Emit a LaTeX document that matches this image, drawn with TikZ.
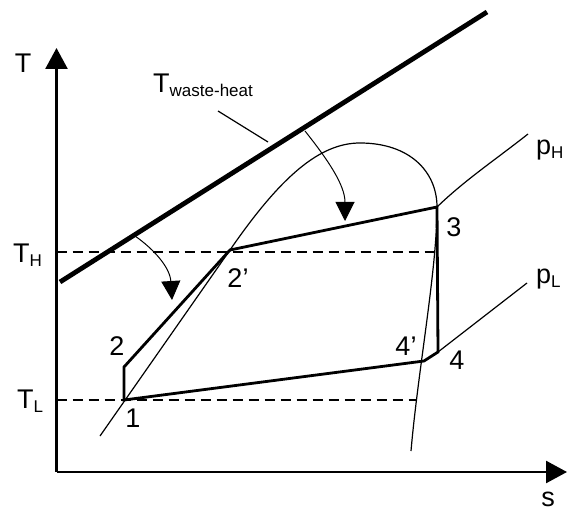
\documentclass[tikz,border=0pt]{standalone}
\usepackage{fontspec}
\setmainfont{Liberation Sans}
\usetikzlibrary{arrows.meta}
\newcommand{\subtxt}[1]{\raisebox{-4pt}{\fontsize{17}{17}\selectfont #1}}
\begin{document}
\begin{tikzpicture}[x=1pt,y=-1pt,
  axisline/.style={line width=2.6pt,-{Triangle[length=21pt,width=22pt]}},
  cycleline/.style={line width=2.8pt,line join=miter},
  hotline/.style={line width=4.8pt},
  thinline/.style={line width=1.2pt},
  dashline/.style={line width=2pt,dash pattern=on 10pt off 6pt},
  heatarrow/.style={line width=1pt,-{Triangle[length=19pt,width=19pt]}},
  lbl/.style={inner sep=0pt,font=\fontsize{27}{30}\selectfont}]
\useasboundingbox (0,0) rectangle (570,513);

% axes
\coordinate (O) at (56.5,472);
\coordinate (Ttip) at (56.5,48);
\coordinate (stip) at (567,472);
\draw[axisline] (O) -- (Ttip);
\draw[axisline] (O) -- (stip);

% cycle points
\coordinate (p1) at (124,400);
\coordinate (p2) at (124,367);
\coordinate (p2p) at (230,250);
\coordinate (p3) at (437,207);
\coordinate (p4) at (438,352);
\coordinate (p4p) at (424,361);

% dashed temperature levels
\coordinate (THa) at (56.5,252);
\coordinate (THb) at (437,252);
\coordinate (TLa) at (56.5,400);
\coordinate (TLb) at (416,400);
\draw[dashline] (THa) -- (THb);
\draw[dashline] (TLa) -- (TLb);

% waste heat line
\coordinate (wh1) at (60,282);
\coordinate (wh2) at (487,12);
\draw[hotline] (wh1) -- (wh2);

% saturation dome
\coordinate (dl) at (100,436);
\coordinate (dtop) at (360,143);
\coordinate (dr) at (411,451);
\draw[thinline] (dl) -- (p2p) .. controls (281,176) and (320,143) .. (dtop)
  .. controls (410,143) and (437,172) .. (p3)
  .. controls (437,270) and (418,370) .. (dr);

% isobars
\coordinate (pHend) at (528,134);
\coordinate (pLend) at (527,283);
\draw[thinline] (p3) .. controls (465,180) and (495,160) .. (pHend);
\draw[thinline] (p4) -- (pLend);

% cycle
\draw[cycleline] (p1) -- (p2) -- (p2p) -- (p3) -- (p4) -- (p4p) -- cycle;

% heat transfer arrows
\coordinate (a1s) at (305,131);
\coordinate (a1e) at (345,221);
\coordinate (a2s) at (135,236);
\coordinate (a2e) at (172,300);
\draw[heatarrow] (a1s) .. controls (328,160) and (345,185) .. (a1e);
\draw[heatarrow] (a2s) .. controls (155,250) and (170,268) .. (a2e);

% leader line
\coordinate (ld1) at (218,111);
\coordinate (ld2) at (268,142);
\draw[thinline] (ld1) -- (ld2);

% labels
\node[lbl] (lT) at (23,63) {T};
\node[lbl,anchor=base] (ls) at (548,506) {s};
\node[lbl,anchor=base west] (lTw) at (153,93) {T\subtxt{waste-heat}};
\node[lbl,anchor=base west] (lTH) at (13,262) {T\subtxt{H}};
\node[lbl,anchor=base west] (lTL) at (17,408) {T\subtxt{L}};
\node[lbl,anchor=base west] (lpH) at (536,155) {p\subtxt{H}};
\node[lbl,anchor=base west] (lpL) at (536,283) {p\subtxt{L}};
\node[lbl] (l3) at (454,227) {3};
\node[lbl] (l4) at (457,360) {4};
\node[lbl] (l4p) at (406,346) {4'};
\node[lbl] (l2p) at (238,278) {2'};
\node[lbl] (l2) at (117,346) {2};
\node[lbl] (l1) at (133,418) {1};
\end{tikzpicture}
\end{document}
